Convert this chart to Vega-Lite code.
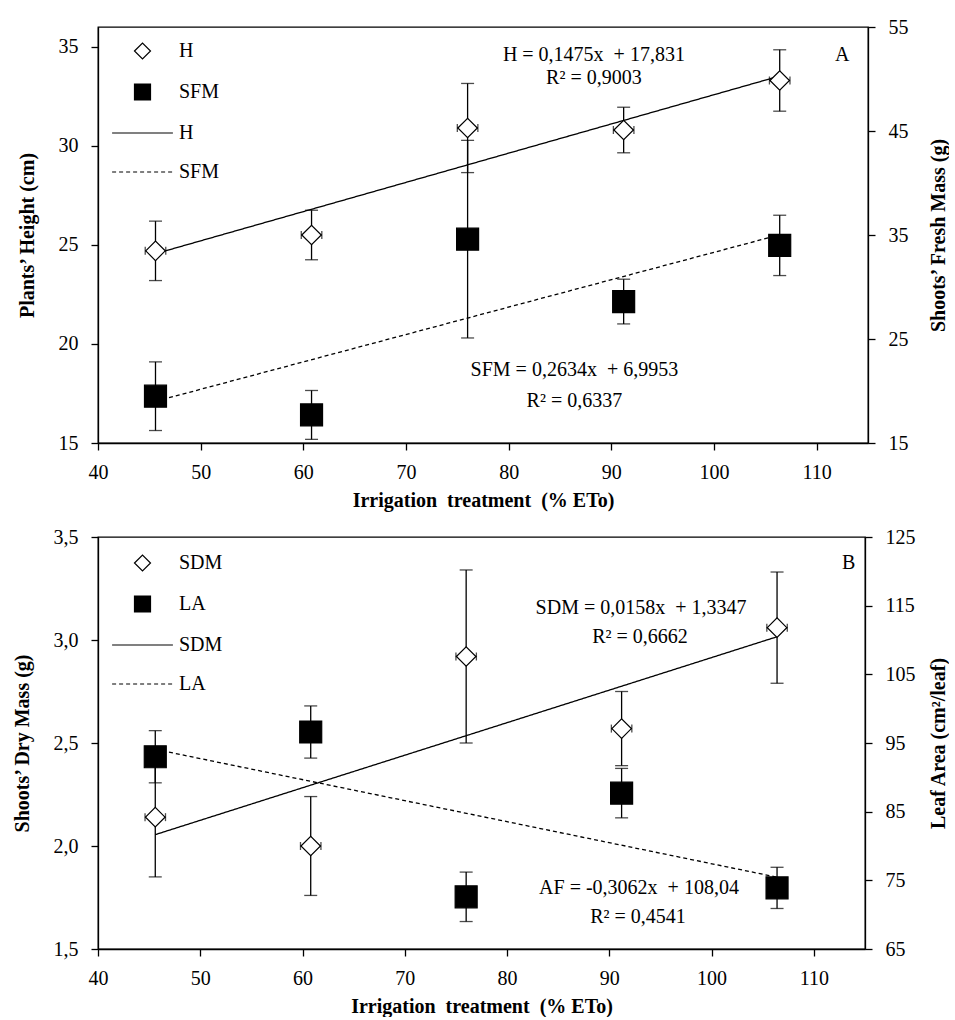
{
  "$schema": "https://vega.github.io/schema/vega-lite/v6.json",
  "background": "white",
  "padding": {"left": 11, "top": 16, "right": 0, "bottom": 0},
  "spacing": 15,
  "datasets": {
    "A_pts": [
      {"series": "H", "x": 45.6, "y": 24.7, "err": 1.5, "xerr": 1},
      {"series": "H", "x": 60.8, "y": 25.5, "err": 1.25, "xerr": 1},
      {"series": "H", "x": 76.0, "y": 30.9, "err": 2.25, "xerr": 1},
      {"series": "H", "x": 91.2, "y": 30.8, "err": 1.15, "xerr": 1},
      {"series": "H", "x": 106.4, "y": 33.3, "err": 1.55, "xerr": 1},
      {"series": "SFM", "x": 45.6, "y": 19.5, "err": 3.3, "xerr": 1},
      {"series": "SFM", "x": 60.8, "y": 17.7, "err": 2.35, "xerr": 1},
      {"series": "SFM", "x": 76.0, "y": 34.6, "err": 9.5, "xerr": 1},
      {"series": "SFM", "x": 91.2, "y": 28.6, "err": 2.15, "xerr": 1},
      {"series": "SFM", "x": 106.4, "y": 34.0, "err": 2.9, "xerr": 1}
    ],
    "A_fit": [
      {"fit": "H line", "x": 45.6, "y": 24.557},
      {"fit": "H line", "x": 106.4, "y": 33.525},
      {"fit": "SFM line", "x": 45.6, "y": 19.006},
      {"fit": "SFM line", "x": 106.4, "y": 35.021}
    ],
    "A_txt": [
      {"x": 88.3, "y": 34.6, "text": "H = 0,1475x\u00a0 + 17,831"},
      {"x": 88.3, "y": 33.43, "text": "R² = 0,9003"},
      {"x": 86.4, "y": 18.7, "text": "SFM = 0,2634x\u00a0 + 6,9953"},
      {"x": 86.4, "y": 17.1, "text": "R² = 0,6337"},
      {"x": 112.5, "y": 34.6, "text": "A"}
    ],
    "B_pts": [
      {"series": "SDM", "x": 45.6, "y": 2.14, "err": 0.29, "xerr": 1},
      {"series": "SDM", "x": 60.8, "y": 2.0, "err": 0.24, "xerr": 1},
      {"series": "SDM", "x": 76.0, "y": 2.92, "err": 0.42, "xerr": 1},
      {"series": "SDM", "x": 91.2, "y": 2.57, "err": 0.18, "xerr": 1},
      {"series": "SDM", "x": 106.4, "y": 3.06, "err": 0.27, "xerr": 1},
      {"series": "LA", "x": 45.6, "y": 93.0, "err": 3.8, "xerr": 1},
      {"series": "LA", "x": 60.8, "y": 96.6, "err": 3.8, "xerr": 1},
      {"series": "LA", "x": 76.0, "y": 72.6, "err": 3.6, "xerr": 1},
      {"series": "LA", "x": 91.2, "y": 87.7, "err": 3.6, "xerr": 1},
      {"series": "LA", "x": 106.4, "y": 73.9, "err": 3.0, "xerr": 1}
    ],
    "B_fit": [
      {"fit": "SDM line", "x": 45.6, "y": 2.0552},
      {"fit": "SDM line", "x": 106.4, "y": 3.0158},
      {"fit": "LA line", "x": 45.6, "y": 94.077},
      {"fit": "LA line", "x": 106.4, "y": 75.46}
    ],
    "B_txt": [
      {"x": 93.1, "y": 3.155, "text": "SDM = 0,0158x\u00a0 + 1,3347"},
      {"x": 93.0, "y": 3.015, "text": "R² = 0,6662"},
      {"x": 92.9, "y": 1.796, "text": "AF = -0,3062x\u00a0 + 108,04"},
      {"x": 92.8, "y": 1.655, "text": "R² = 0,4541"},
      {"x": 113.4, "y": 3.374, "text": "B"}
    ]
  },
  "vconcat": [
    {
      "width": 770,
      "height": 416,
      "layer": [
        {
          "encoding": {
            "x": {"field": "x", "type": "quantitative", "scale": {"domain": [40, 115], "nice": false, "zero": false}, "axis": {"values": [40, 50, 60, 70, 80, 90, 100, 110], "title": "Irrigation\u00a0 treatment\u00a0 (%\u00a0ETo)"}},
            "y": {"field": "y", "type": "quantitative", "scale": {"domain": [15, 36], "nice": false, "zero": false}, "axis": {"orient": "left", "values": [15, 20, 25, 30, 35], "title": "Plants’ Height (cm)"}}
          },
          "layer": [
            {
              "data": {"name": "A_fit"},
              "transform": [{"filter": "datum.fit === 'H line'"}],
              "mark": {"type": "line", "color": "black", "strokeWidth": 1.3},
              "encoding": {"strokeDash": {"field": "fit", "type": "nominal", "scale": {"domain": ["H line", "SFM line"], "range": [[1, 0], [4, 3]]}, "legend": {"title": null, "orient": "none", "legendX": 34.5, "legendY": 96, "symbolType": "M-3.8,0H3.8", "symbolSize": 256, "labelOffset": 26.5, "rowPadding": 19, "padding": 0, "symbolStrokeColor": "black", "symbolStrokeWidth": 1.2, "labelExpr": "replace(datum.label, ' line', '')"}}}
            },
            {
              "data": {"name": "A_pts"},
              "transform": [{"filter": "datum.series === 'H'"}],
              "mark": {"type": "errorbar", "ticks": true, "size": 13, "thickness": 1.3, "color": "black"},
              "encoding": {"yError": {"field": "err"}}
            },
            {
              "data": {"name": "A_pts"},
              "transform": [{"filter": "datum.series === 'H'"}],
              "mark": {"type": "errorbar", "ticks": true, "size": 8, "thickness": 1.3, "color": "black"},
              "encoding": {"xError": {"field": "xerr"}}
            },
            {
              "data": {"name": "A_pts"},
              "transform": [{"filter": "datum.series === 'H'"}],
              "mark": {"type": "point", "filled": true, "size": 380, "strokeWidth": 1.2, "opacity": 1},
              "encoding": {
                "shape": {"field": "series", "type": "nominal", "scale": {"domain": ["H", "SFM"], "range": ["diamond", "square"]}, "legend": {"title": null, "orient": "none", "legendX": 34.5, "legendY": 14, "symbolSize": 256, "labelOffset": 26.5, "rowPadding": 19, "padding": 0, "symbolStrokeColor": "black", "symbolStrokeWidth": 1.2}},
                "fill": {"field": "series", "type": "nominal", "scale": {"domain": ["H", "SFM"], "range": ["white", "black"]}, "legend": {"title": null, "orient": "none", "legendX": 34.5, "legendY": 14, "symbolSize": 256, "labelOffset": 26.5, "rowPadding": 19, "padding": 0, "symbolStrokeColor": "black", "symbolStrokeWidth": 1.2}},
                "stroke": {"field": "series", "type": "nominal", "scale": {"domain": ["H", "SFM"], "range": ["black", "black"]}, "legend": {"title": null, "orient": "none", "legendX": 34.5, "legendY": 14, "symbolSize": 256, "labelOffset": 26.5, "rowPadding": 19, "padding": 0, "symbolStrokeColor": "black", "symbolStrokeWidth": 1.2}}
              }
            },
            {
              "data": {"name": "A_txt"},
              "mark": {"type": "text", "font": "Liberation Serif", "fontSize": 20, "color": "black"},
              "encoding": {"text": {"field": "text"}}
            }
          ]
        },
        {
          "encoding": {
            "x": {"field": "x", "type": "quantitative", "scale": {"domain": [40, 115], "nice": false, "zero": false}},
            "y": {"field": "y", "type": "quantitative", "scale": {"domain": [15, 55], "nice": false, "zero": false}, "axis": {"orient": "right", "values": [15, 25, 35, 45, 55], "title": "Shoots’ Fresh Mass (g)", "titlePadding": 20}}
          },
          "layer": [
            {
              "data": {"name": "A_fit"},
              "transform": [{"filter": "datum.fit === 'SFM line'"}],
              "mark": {"type": "line", "color": "black", "strokeWidth": 1.3},
              "encoding": {"strokeDash": {"field": "fit", "type": "nominal", "scale": {"domain": ["H line", "SFM line"], "range": [[1, 0], [4, 3]]}}}
            },
            {
              "data": {"name": "A_pts"},
              "transform": [{"filter": "datum.series === 'SFM'"}],
              "mark": {"type": "errorbar", "ticks": true, "size": 13, "thickness": 1.3, "color": "black"},
              "encoding": {"yError": {"field": "err"}}
            },
            {
              "data": {"name": "A_pts"},
              "transform": [{"filter": "datum.series === 'SFM'"}],
              "mark": {"type": "point", "filled": true, "size": 484, "strokeWidth": 1.2, "opacity": 1},
              "encoding": {
                "shape": {"field": "series", "type": "nominal", "scale": {"domain": ["H", "SFM"], "range": ["diamond", "square"]}},
                "fill": {"field": "series", "type": "nominal", "scale": {"domain": ["H", "SFM"], "range": ["white", "black"]}},
                "stroke": {"field": "series", "type": "nominal", "scale": {"domain": ["H", "SFM"], "range": ["black", "black"]}}
              }
            }
          ]
        }
      ],
      "resolve": {"scale": {"y": "independent"}}
    },
    {
      "width": 767,
      "height": 412,
      "layer": [
        {
          "encoding": {
            "x": {"field": "x", "type": "quantitative", "scale": {"domain": [40, 115], "nice": false, "zero": false}, "axis": {"values": [40, 50, 60, 70, 80, 90, 100, 110], "title": "Irrigation\u00a0 treatment\u00a0 (%\u00a0ETo)"}},
            "y": {"field": "y", "type": "quantitative", "scale": {"domain": [1.5, 3.5], "nice": false, "zero": false}, "axis": {"orient": "left", "values": [1.5, 2, 2.5, 3, 3.5], "labelExpr": "replace(format(datum.value, '.1f'), '.', ',')", "title": "Shoots’ Dry Mass (g)"}}
          },
          "layer": [
            {
              "data": {"name": "B_fit"},
              "transform": [{"filter": "datum.fit === 'SDM line'"}],
              "mark": {"type": "line", "color": "black", "strokeWidth": 1.3},
              "encoding": {"strokeDash": {"field": "fit", "type": "nominal", "scale": {"domain": ["SDM line", "LA line"], "range": [[1, 0], [4, 3]]}, "legend": {"title": null, "orient": "none", "legendX": 34.5, "legendY": 98, "symbolType": "M-3.8,0H3.8", "symbolSize": 256, "labelOffset": 26.5, "rowPadding": 19, "padding": 0, "symbolStrokeColor": "black", "symbolStrokeWidth": 1.2, "labelExpr": "replace(datum.label, ' line', '')"}}}
            },
            {
              "data": {"name": "B_pts"},
              "transform": [{"filter": "datum.series === 'SDM'"}],
              "mark": {"type": "errorbar", "ticks": true, "size": 13, "thickness": 1.3, "color": "black"},
              "encoding": {"yError": {"field": "err"}}
            },
            {
              "data": {"name": "B_pts"},
              "transform": [{"filter": "datum.series === 'SDM'"}],
              "mark": {"type": "errorbar", "ticks": true, "size": 8, "thickness": 1.3, "color": "black"},
              "encoding": {"xError": {"field": "xerr"}}
            },
            {
              "data": {"name": "B_pts"},
              "transform": [{"filter": "datum.series === 'SDM'"}],
              "mark": {"type": "point", "filled": true, "size": 380, "strokeWidth": 1.2, "opacity": 1},
              "encoding": {
                "shape": {"field": "series", "type": "nominal", "scale": {"domain": ["SDM", "LA"], "range": ["diamond", "square"]}, "legend": {"title": null, "orient": "none", "legendX": 34.5, "legendY": 16, "symbolSize": 256, "labelOffset": 26.5, "rowPadding": 19, "padding": 0, "symbolStrokeColor": "black", "symbolStrokeWidth": 1.2}},
                "fill": {"field": "series", "type": "nominal", "scale": {"domain": ["SDM", "LA"], "range": ["white", "black"]}, "legend": {"title": null, "orient": "none", "legendX": 34.5, "legendY": 16, "symbolSize": 256, "labelOffset": 26.5, "rowPadding": 19, "padding": 0, "symbolStrokeColor": "black", "symbolStrokeWidth": 1.2}},
                "stroke": {"field": "series", "type": "nominal", "scale": {"domain": ["SDM", "LA"], "range": ["black", "black"]}, "legend": {"title": null, "orient": "none", "legendX": 34.5, "legendY": 16, "symbolSize": 256, "labelOffset": 26.5, "rowPadding": 19, "padding": 0, "symbolStrokeColor": "black", "symbolStrokeWidth": 1.2}}
              }
            },
            {
              "data": {"name": "B_txt"},
              "mark": {"type": "text", "font": "Liberation Serif", "fontSize": 20, "color": "black"},
              "encoding": {"text": {"field": "text"}}
            }
          ]
        },
        {
          "encoding": {
            "x": {"field": "x", "type": "quantitative", "scale": {"domain": [40, 115], "nice": false, "zero": false}},
            "y": {"field": "y", "type": "quantitative", "scale": {"domain": [65, 125], "nice": false, "zero": false}, "axis": {"orient": "right", "values": [65, 75, 85, 95, 105, 115, 125], "title": "Leaf Area (cm²/leaf)", "titlePadding": 13}}
          },
          "layer": [
            {
              "data": {"name": "B_fit"},
              "transform": [{"filter": "datum.fit === 'LA line'"}],
              "mark": {"type": "line", "color": "black", "strokeWidth": 1.3},
              "encoding": {"strokeDash": {"field": "fit", "type": "nominal", "scale": {"domain": ["SDM line", "LA line"], "range": [[1, 0], [4, 3]]}}}
            },
            {
              "data": {"name": "B_pts"},
              "transform": [{"filter": "datum.series === 'LA'"}],
              "mark": {"type": "errorbar", "ticks": true, "size": 13, "thickness": 1.3, "color": "black"},
              "encoding": {"yError": {"field": "err"}}
            },
            {
              "data": {"name": "B_pts"},
              "transform": [{"filter": "datum.series === 'LA'"}],
              "mark": {"type": "point", "filled": true, "size": 484, "strokeWidth": 1.2, "opacity": 1},
              "encoding": {
                "shape": {"field": "series", "type": "nominal", "scale": {"domain": ["SDM", "LA"], "range": ["diamond", "square"]}},
                "fill": {"field": "series", "type": "nominal", "scale": {"domain": ["SDM", "LA"], "range": ["white", "black"]}},
                "stroke": {"field": "series", "type": "nominal", "scale": {"domain": ["SDM", "LA"], "range": ["black", "black"]}}
              }
            }
          ]
        }
      ],
      "resolve": {"scale": {"y": "independent"}}
    }
  ],
  "resolve": {
    "scale": {"shape": "independent", "fill": "independent", "stroke": "independent", "strokeDash": "independent"},
    "legend": {"shape": "independent", "fill": "independent", "stroke": "independent", "strokeDash": "independent"}
  },
  "config": {
    "font": "Liberation Serif",
    "view": {"stroke": "black", "strokeWidth": 1.3},
    "axis": {
      "domainColor": "black", "domainWidth": 1.3,
      "tickColor": "black", "tickWidth": 1.3, "tickSize": 7,
      "labelColor": "black", "labelFont": "Liberation Serif", "labelFontSize": 20, "labelPadding": 13,
      "titleColor": "black", "titleFont": "Liberation Serif", "titleFontSize": 20, "titleFontWeight": "bold",
      "grid": false, "labelFlush": false, "labelOverlap": false
    },
    "axisLeft": {"titlePadding": 21},
    "axisRight": {"titleAngle": 270, "titleBaseline": "top"},
    "axisBottom": {"titlePadding": 8, "labelPadding": 12},
    "legend": {"labelFont": "Liberation Serif", "labelFontSize": 20, "labelColor": "black"}
  }
}
